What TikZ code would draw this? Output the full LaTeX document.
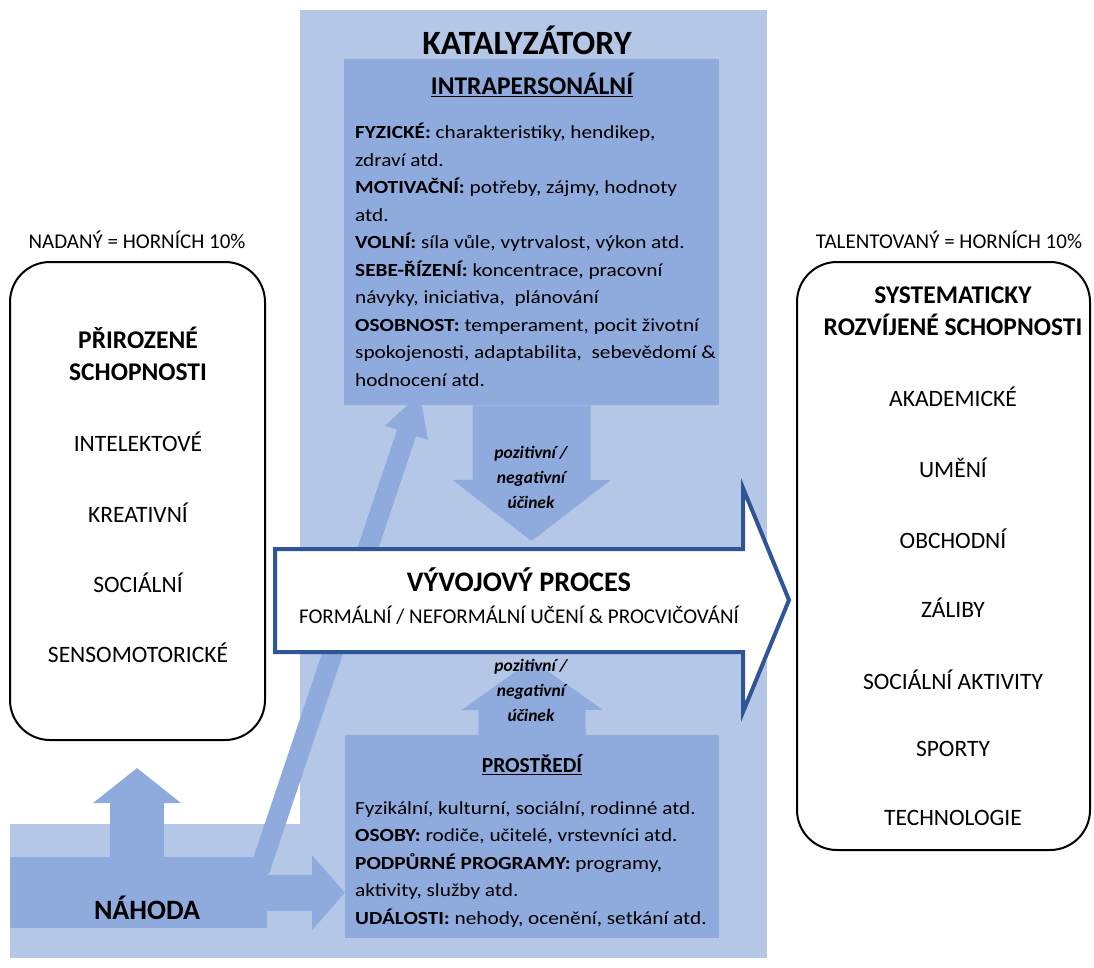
\documentclass[tikz,border=0pt]{standalone}
\usepackage{fontspec}
\setmainfont{Carlito}
\newfontfamily\widefont{Carlito}[FakeStretch=1.15]
\usetikzlibrary{arrows.meta}
\definecolor{panelblue}{HTML}{B4C7E7}
\definecolor{innerblue}{HTML}{8FAADC}
\definecolor{procblue}{HTML}{2F5597}
\newcommand{\fsz}[2]{\fontsize{#1}{#2}\selectfont}

\begin{document}
\begin{tikzpicture}[x=1pt,y=-1pt,every node/.style={inner sep=0pt,text=black},
	blk/.style={fill=innerblue,draw=none},
	skill/.style={draw=black,line width=2pt,rounded corners=40pt,fill=white},
	item/.style={font=\fsz{23.5}{26}},
	head/.style={font=\fsz{25.5}{32}\bfseries,align=center},
	body/.style={font=\widefont\fsz{18.5}{27.5},align=left,anchor=north west},
	effect/.style={font=\fsz{17.5}{25}\bfseries\itshape,align=center},
	blkarrow/.style={draw=innerblue}]
	\useasboundingbox (0,0) rectangle (1094,967);
	% svetly panel katalyzatoru
	\fill[panelblue] (300,10) rectangle (767,958);
	\fill[panelblue] (10,824) rectangle (300,958);
	\node[blk,minimum width=375pt,minimum height=346pt,anchor=north west] (intra) at (344,59){};
	\node[blk,minimum width=374pt,minimum height=203pt,anchor=north west] (prost) at (345,735){};
	\node[blk,minimum width=257pt,minimum height=71pt,anchor=north west] (nahoda) at (10,857){};
	\coordinate (diagtip) at (420,393);
	\coordinate (uptip) at (137,768);
	\draw[blkarrow,line width=118pt,-{Triangle[width=155pt,length=61pt]}] (intra.south)--(531.5,541);
	\draw[blkarrow,line width=107pt,-{Triangle[width=139pt,length=50pt]}] (prost.north)--(532,660);
	\draw[blkarrow,line width=54pt,-{Triangle[width=86pt,length=35pt]}] (nahoda.north -| uptip)--(uptip);
	\draw[blkarrow,line width=36pt,-{Triangle[width=73pt,length=33pt]}] (nahoda.east)--(prost.west |- nahoda.east);
	\draw[blkarrow,line width=20pt,-{Triangle[width=42pt,length=42pt]}] ([xshift=-8pt,yshift=-14pt]nahoda.north east)--(diagtip);
	% boxy schopnosti
	\node[skill,minimum width=255pt,minimum height=478pt] (prir) at (137.5,501){};
	\node[skill,minimum width=293pt,minimum height=588pt] (rozv) at (943.5,556){};
	% vyvojovy proces
	\draw[procblue,line width=4pt,fill=white,line join=miter] (275,549)--(743,549)--(743,488)--(789,600)--(743,712)--(743,652)--(275,652)--cycle;
	\node[font=\fsz{28.3}{30}\bfseries] (proces) at (519,580){VÝVOJOVÝ PROCES};
	\node[font=\fsz{21}{24}] (procsub) at (519,615){FORMÁLNÍ / NEFORMÁLNÍ UČENÍ \& PROCVIČOVÁNÍ};
	% texty
	\node[font=\fsz{34}{36}\bfseries] (kat) at (527,40){KATALYZÁTORY};
	\node[font=\fsz{25.5}{28}\bfseries] (intrahead) at (532,85){\underline{INTRAPERSONÁLNÍ}};
	\node[body] (intratxt) at (355,123){\textbf{FYZICKÉ:} charakteristiky, hendikep,\\
		zdraví atd.\\
		\textbf{MOTIVAČNÍ:} potřeby, zájmy, hodnoty\\
		atd.\\
		\textbf{VOLNÍ:} síla vůle, vytrvalost, výkon atd.\\
		\textbf{SEBE-ŘÍZENÍ:} koncentrace, pracovní\\
		návyky, iniciativa,\ \ plánování\\
		\textbf{OSOBNOST:} temperament, pocit životní\\
		spokojenosti, adaptabilita,\ \ sebevědomí \&\\
		hodnocení atd.};
	\node[effect] (eff1) at (531,477){pozitivní /\\negativní\\účinek};
	\node[effect] (eff2) at (531,690){pozitivní /\\negativní\\účinek};
	\node[font=\fsz{21.5}{24}\bfseries] (prosthead) at (532,765){\underline{PROSTŘEDÍ}};
	\node[body] (prosttxt) at (355,801){Fyzikální, kulturní, sociální, rodinné atd.\\
		\textbf{OSOBY:} rodiče, učitelé, vrstevníci atd.\\
		\textbf{PODPŮRNÉ PROGRAMY:} programy,\\
		aktivity, služby atd.\\
		\textbf{UDÁLOSTI:} nehody, ocenění, setkání atd.};
	\node[font=\fsz{28}{30}\bfseries] (nahodatxt) at (147,908){NÁHODA};
	% leva strana
	\node[font=\fsz{21}{24}] (nadany) at (137,240){NADANÝ = HORNÍCH 10\%};
	\node[head] (prirhead) at (138,354){PŘIROZENÉ\\SCHOPNOSTI};
	\node[item] (intel) at (138,442){INTELEKTOVÉ};
	\node[item] (kreat) at (138,513){KREATIVNÍ};
	\node[item] (soc) at (138,583){SOCIÁLNÍ};
	\node[item] (senso) at (138,653){SENSOMOTORICKÉ};
	% prava strana
	\node[font=\fsz{21}{24}] (talent) at (949,240){TALENTOVANÝ = HORNÍCH 10\%};
	\node[head] (rozvhead) at (953,311){SYSTEMATICKY\\ROZVÍJENÉ SCHOPNOSTI};
	\node[item] (akad) at (953,397){AKADEMICKÉ};
	\node[item] (umeni) at (953,468){UMĚNÍ};
	\node[item] (obch) at (953,539){OBCHODNÍ};
	\node[item] (zaliby) at (953,608){ZÁLIBY};
	\node[item] (socakt) at (953,680){SOCIÁLNÍ AKTIVITY};
	\node[item] (sport) at (953,749){SPORTY};
	\node[item] (tech) at (953,818){TECHNOLOGIE};
\end{tikzpicture}
\end{document}
